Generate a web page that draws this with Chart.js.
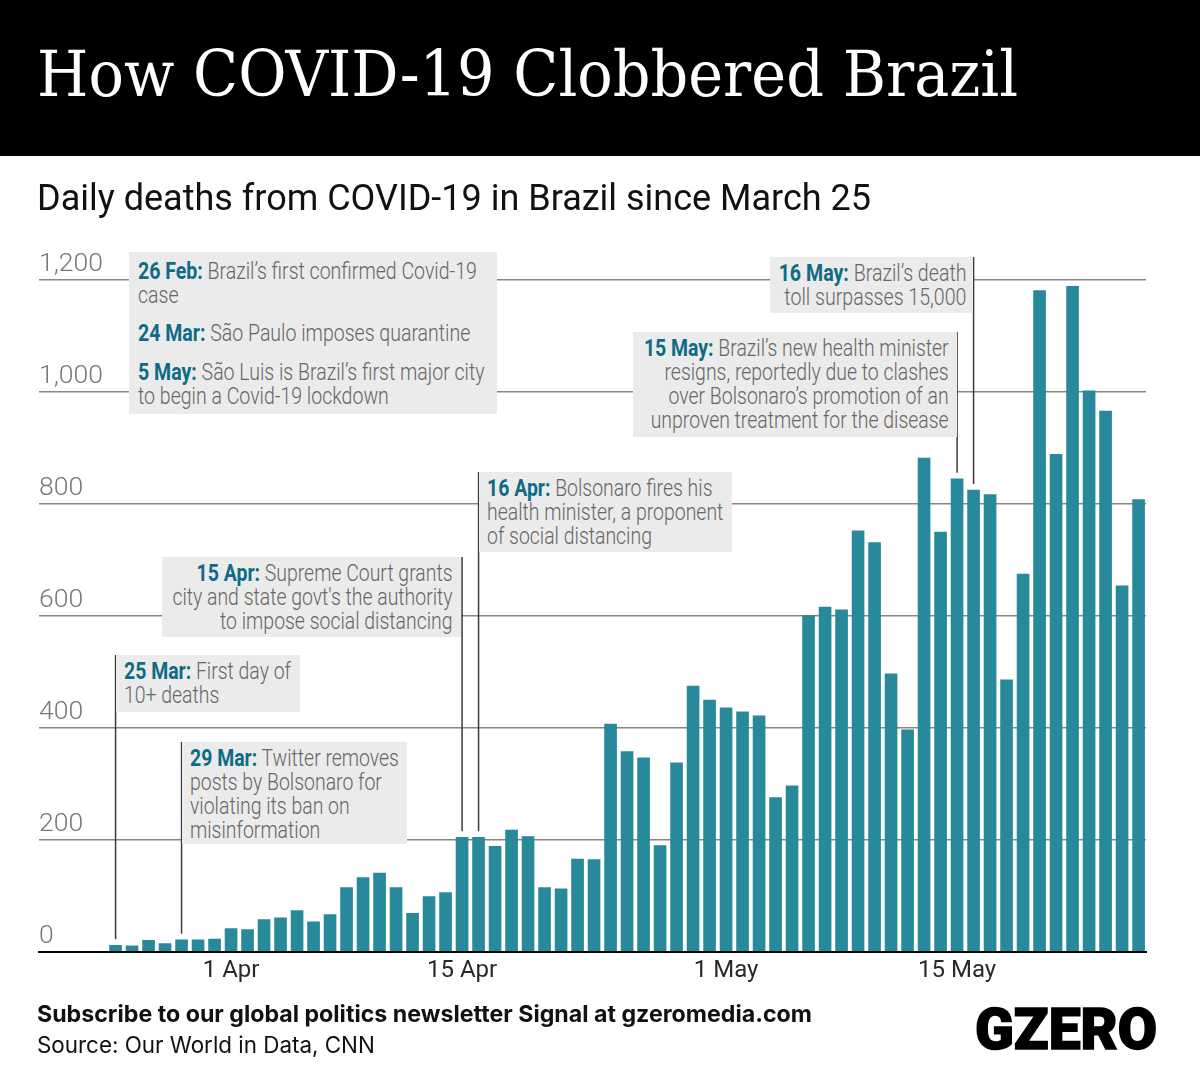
<!doctype html>
<html lang="en">
<head>
	<meta charset="utf-8">
	<title>How COVID-19 Clobbered Brazil</title>
	<style>
		html, body { margin:0; padding:0; background:#fff; }
		#page { position:relative; width:1200px; height:1092px; overflow:hidden; font-family:Roboto, sans-serif; }
		#band { position:absolute; left:0; top:0; width:1200px; height:156px; background:#000; }
		#title { position:absolute; left:37px; top:34px; color:#fff; font:400 64px/80px "DejaVu Serif", serif; white-space:nowrap; transform-origin:left center; transform:scaleX(.921); }
		#subtitle { position:absolute; left:37px; top:175px; color:#111; font:400 36px/46px Roboto, sans-serif; white-space:nowrap; }
		#deathsChart { position:absolute; left:0; top:0; }
		.box { position:absolute; background:#ebebeb; }
		.txt { position:absolute; top:4.5px; font:300 23px/24px Roboto, sans-serif; color:#666; white-space:nowrap; transform:scaleX(.845); }
		.left .txt { left:9px; transform-origin:left top; }
		.right .txt { right:9px; text-align:right; transform-origin:right top; }
		.txt b { font-weight:700; color:#0f6b85; }
		.gap { height:14.5px; }
		#subscribe { position:absolute; left:37px; top:999px; font:700 23.2px/30px Inter, sans-serif; color:#111; white-space:nowrap; }
		#source { position:absolute; left:37px; top:1030px; font:400 22.4px/30px Inter, sans-serif; color:#111; white-space:nowrap; }
		#logo { position:absolute; left:975px; top:995px; font:900 57px/70px Roboto, sans-serif; color:#000; -webkit-text-stroke:1.5px #000; white-space:nowrap; }
	</style>
</head>

<body>
	<div id="page">
		<canvas id="deathsChart" width="1200" height="1092"></canvas>
		<div id="band"></div>
		<div id="title">How COVID-19 Clobbered Brazil</div>
		<div id="subtitle">Daily deaths from COVID-19 in Brazil since March 25</div>

		<div class="box left" style="left:129px;top:252px;width:368px;height:162px">
			<div class="txt" style="top:7.5px;transform:scaleX(.849)"><div><b>26 Feb:</b> Brazil’s first confirmed Covid-19</div><div>case</div><div class="gap"></div><div><b>24 Mar:</b> São Paulo imposes quarantine</div><div class="gap"></div><div><b>5 May:</b> São Luis is Brazil’s first major city</div><div>to begin a Covid-19 lockdown</div></div>
		</div>
		<div class="box left event" data-day="25 Mar" style="left:116px;top:655px;width:184px;height:57px">
			<div class="txt" style="left:8px"><div><b>25 Mar:</b> First day of</div><div>10+ deaths</div></div>
		</div>
		<div class="box left event" data-day="29 Mar" style="left:182px;top:742px;width:225px;height:102px">
			<div class="txt" style="left:8px"><div><b>29 Mar:</b> Twitter removes</div><div>posts by Bolsonaro for</div><div>violating its ban on</div><div>misinformation</div></div>
		</div>
		<div class="box right event" data-day="15 Apr" style="left:162px;top:557px;width:299px;height:80px">
			<div class="txt" style="right:8px"><div><b>15 Apr:</b> Supreme Court grants</div><div>city and state govt's the authority</div><div>to impose social distancing</div></div>
		</div>
		<div class="box left event" data-day="16 Apr" style="left:479px;top:472px;width:253px;height:80px">
			<div class="txt" style="left:8px"><div><b>16 Apr:</b> Bolsonaro fires his</div><div>health minister, a proponent</div><div>of social distancing</div></div>
		</div>
		<div class="box right event" data-day="15 May" style="left:633px;top:332px;width:324px;height:105px">
			<div class="txt" style="right:8px"><div><b>15 May:</b> Brazil’s new health minister</div><div>resigns, reportedly due to clashes</div><div>over Bolsonaro’s promotion of an</div><div>unproven treatment for the disease</div></div>
		</div>
		<div class="box right event" data-day="16 May" style="left:770px;top:257px;width:203px;height:56px">
			<div class="txt" style="right:7px;transform:scaleX(.852)"><div><b>16 May:</b> Brazil’s death</div><div>toll surpasses 15,000</div></div>
		</div>

		<div id="subscribe">Subscribe to our global politics newsletter Signal at gzeromedia.com</div>
		<div id="source">Source: Our World in Data, CNN</div>
		<div id="logo">GZERO</div>
	</div>

	<script src="https://cdn.jsdelivr.net/npm/chart.js@4/dist/chart.umd.min.js"></script>
	<script>
		var dates = [
			"25 Mar","26 Mar","27 Mar","28 Mar","29 Mar","30 Mar","31 Mar",
			"1 Apr","2 Apr","3 Apr","4 Apr","5 Apr","6 Apr","7 Apr","8 Apr","9 Apr","10 Apr",
			"11 Apr","12 Apr","13 Apr","14 Apr","15 Apr","16 Apr","17 Apr","18 Apr","19 Apr","20 Apr",
			"21 Apr","22 Apr","23 Apr","24 Apr","25 Apr","26 Apr","27 Apr","28 Apr","29 Apr","30 Apr",
			"1 May","2 May","3 May","4 May","5 May","6 May","7 May","8 May","9 May","10 May",
			"11 May","12 May","13 May","14 May","15 May","16 May","17 May","18 May","19 May","20 May",
			"21 May","22 May","23 May","24 May","25 May","26 May"
		];
		var deaths = [
			11,10,20,14,21,21,22,
			41,39,57,60,73,53,66,114,132,140,
			114,68,98,105,204,204,188,217,205,114,
			112,165,164,406,357,346,189,337,474,449,
			435,428,421,275,296,600,615,610,751,730,
			496,396,881,749,844,824,816,485,674,1180,
			888,1188,1001,965,653,807
		];
		var xTickDates = ["1 Apr","15 Apr","1 May","15 May"];
		var yTicks = [0,200,400,600,800,1000,1200];

		var leaderLines =
		{
			id:"leaderLines",
			afterDatasetsDraw:function(chart)
			{
				var ctx = chart.ctx;
				var xScale = chart.scales.x;
				var yScale = chart.scales.y;

				document.querySelectorAll(".event").forEach(function(box)
				{
					var index = dates.indexOf(box.dataset.day);
					var x = xScale.getPixelForValue(index);

					ctx.save();
					ctx.strokeStyle = "#3c3c3c";
					ctx.lineWidth = 1.5;
					ctx.beginPath();
					ctx.moveTo(x, box.offsetTop);
					ctx.lineTo(x, yScale.getPixelForValue(deaths[index]) - 6);
					ctx.stroke();
					ctx.restore();
				});
			}
		};

		var deathsChart = new Chart(
			"deathsChart",
			{
				type:"bar",
				data:{
					datasets:[
						{
							label:"Daily deaths",
							backgroundColor:"#28899a",
							barThickness:12,
							data:dates.map(function(date, index) { return { x:index, y:deaths[index] }; })
						}]
				},
				options:{
					responsive:false,
					animation:false,
					devicePixelRatio:1,
					layout:{ padding:{ left:39, right:54, top:279.5, bottom:80.5 } },
					plugins:{ legend:{ display:false }, tooltip:{ enabled:false } },
					scales:{
						x:{
							type:"linear",
							offset:false,
							min:-4.64,
							max:62.45,
							afterBuildTicks:function(scale)
							{
								scale.ticks = xTickDates.map(function(date) { return { value:dates.indexOf(date) }; });
							},
							afterFit:function(scale) { scale.height = 60; },
							grid:{ display:false },
							border:{ color:"#000", width:2 },
							ticks:{
								autoSkip:false,
								maxRotation:0,
								padding:-3,
								color:"#2a2a2a",
								font:{ family:"Roboto", size:24 },
								callback:function(value) { return dates[value]; }
							}
						},
						y:{
							min:0,
							max:1200,
							afterBuildTicks:function(scale)
							{
								scale.ticks = yTicks.map(function(value) { return { value:value }; });
							},
							afterFit:function(scale) { scale.width = 0; },
							grid:{ color:"#858585", lineWidth:1.5, drawTicks:false },
							border:{ display:false },
							ticks:{
								mirror:true,
								padding:0,
								labelOffset:-15,
								color:"#777777",
								font:{ family:"Roboto", size:26.5, weight:"300" },
								callback:function(value) { return value.toLocaleString("en-US"); }
							}
						}
					}
				},
				plugins:[leaderLines]
			});
	</script>
</body>
</html>
